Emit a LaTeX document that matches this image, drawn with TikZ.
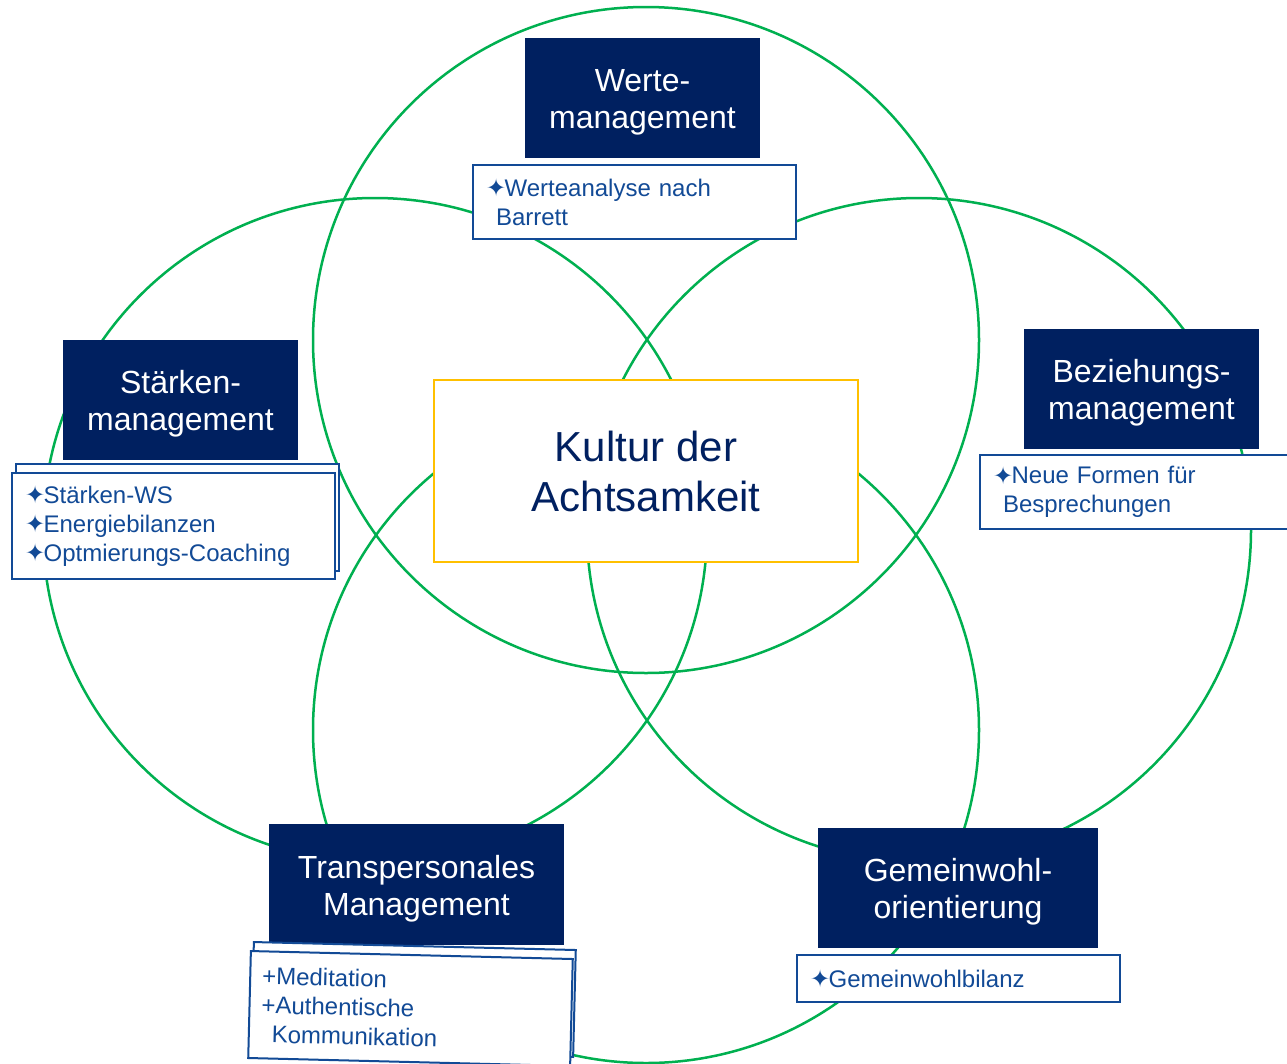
\documentclass[tikz,border=0pt]{standalone}
\usepackage{fontspec}
\setmainfont{Liberation Sans}
\newfontfamily\symf{DejaVu Sans}
\definecolor{navy}{RGB}{0,32,96}
\definecolor{subblue}{RGB}{18,74,150}
\definecolor{circgreen}{RGB}{0,176,80}
\definecolor{kyellow}{RGB}{255,192,0}
\newcommand{\mystar}{\hspace*{1pt}\smash{\raisebox{-0.5pt}{\symf\fontsize{24}{24}\selectfont ✦}}\hspace{-1.5pt}}
\newcommand{\tup}{\rule{0pt}{31pt}}
\begin{document}
\begin{tikzpicture}[x=1pt,y=-1pt,
  ring/.style={draw=circgreen,line width=2.5pt},
  titlebox/.style={fill=navy,text=white,align=center,inner sep=0pt,font=\fontsize{32}{37}\selectfont},
  subbox/.style={draw=subblue,fill=white,line width=2pt,text=subblue,align=left,inner xsep=12pt,inner ysep=0pt,font=\fontsize{24}{29}\selectfont},
  backbox/.style={draw=subblue,fill=white,line width=2pt,inner sep=0pt},
  centerbox/.style={draw=kyellow,fill=white,line width=1.5pt,text=navy,align=center,inner sep=0pt,font=\fontsize{42}{50}\selectfont}]
\clip (0,0) rectangle (1287,1063);
\fill[white] (0,0) rectangle (1287,1063);
% circles
\draw[ring] (646,340) circle[radius=333pt];
\draw[ring] (375,530) circle[radius=332pt];
\draw[ring] (919,530) circle[radius=332pt];
\draw[ring] (646,730) circle[radius=333pt];
% center
\node[centerbox,minimum width=424pt,minimum height=182pt] (kultur) at (646,471) {Kultur der\\Achtsamkeit};
% Werte
\node[titlebox,minimum width=235pt,minimum height=120pt] (werte) at (642.5,98) {\tup Werte-\\management};
\node[subbox,anchor=north west,text width=299pt,minimum height=74pt] (wertesub) at (472,164)
  {\mystar Werteanalyse nach\\\hspace*{11pt}Barrett};
% Staerken
\node[titlebox,minimum width=235pt,minimum height=120pt] (staerken) at (180.5,400) {\tup Stärken-\\management};
\node[backbox,anchor=north west,minimum width=323pt,minimum height=107pt] (sback) at (15,463) {};
\node[subbox,anchor=north west,text width=299pt,minimum height=106pt] (staerkensub) at (11,472)
  {\mystar Stärken-WS\\\mystar Energiebilanzen\\\mystar Optmierungs-Coaching};
% Beziehungs
\node[titlebox,minimum width=235pt,minimum height=120pt] (bez) at (1141.5,389) {\tup Beziehungs-\\management};
\node[subbox,anchor=north west,text width=306pt,minimum height=74pt] (bezsub) at (979,454)
  {\mystar Neue Formen für\\\hspace*{11pt}Besprechungen};
% Transpersonales
\node[titlebox,minimum width=295pt,minimum height=121pt] (trans) at (416.5,884.5) {\tup Transpersonales\\Management};
\node[backbox,rotate=-1.42,minimum width=322pt,minimum height=107pt] (tback) at (413.5,999.5) {};
\node[subbox,rotate=-1.42,text width=298pt,minimum height=107pt] (transsub) at (410.5,1008.5)
  {+Meditation\\+Authentische\\\hspace*{11pt}Kommunikation};
% Gemeinwohl
\node[titlebox,minimum width=280pt,minimum height=120pt] (gemein) at (958,888) {\tup Gemeinwohl-\\orientierung};
\node[subbox,anchor=north west,text width=299pt,minimum height=47pt] (gemeinsub) at (796,954)
  {\mystar Gemeinwohlbilanz};
\end{tikzpicture}
\end{document}
